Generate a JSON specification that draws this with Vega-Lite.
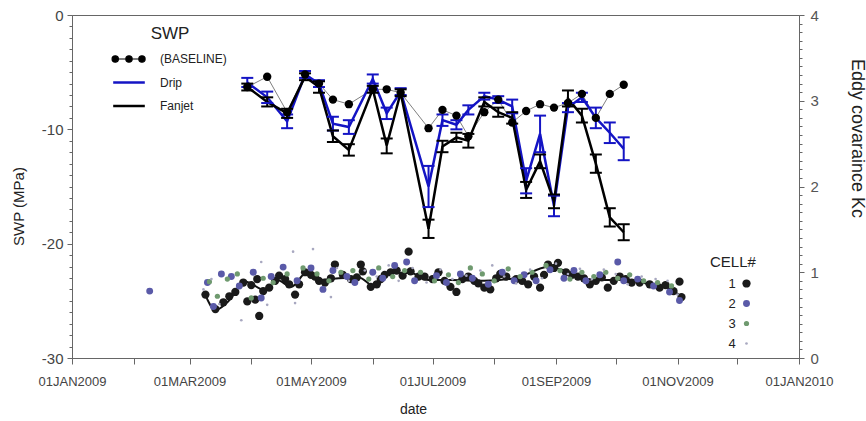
{
"$schema": "https://vega.github.io/schema/vega-lite/v6.json",
"width": 727, "height": 343, "autosize": "none",
"padding": {"left": 72, "top": 15, "right": 67, "bottom": 63},
"background": "white",
"config": {
 "font": "Liberation Sans",
 "view": {"stroke": "#666666", "strokeWidth": 1},
 "axis": {"grid": false, "domainColor": "#666666", "tickColor": "#666666", "labelColor": "#444444", "titleColor": "#222222", "titleFontWeight": "normal", "labelFont": "Liberation Sans", "titleFont": "Liberation Sans"},
 "legend": {"titleFont": "Liberation Sans", "labelFont": "Liberation Sans", "titleFontWeight": "normal", "titleColor": "#222222", "labelColor": "#222222", "padding": 0}
},
"datasets": {
 "swp": [
  {"date":"2009-03-30","series":"(BASELINE)","v":-6.3},
  {"date":"2009-04-09","series":"(BASELINE)","v":-5.4},
  {"date":"2009-04-19","series":"(BASELINE)","v":-8.5},
  {"date":"2009-04-28","series":"(BASELINE)","v":-5.2},
  {"date":"2009-05-05","series":"(BASELINE)","v":-6.0},
  {"date":"2009-05-12","series":"(BASELINE)","v":-7.4},
  {"date":"2009-05-20","series":"(BASELINE)","v":-7.8},
  {"date":"2009-06-01","series":"(BASELINE)","v":-6.5},
  {"date":"2009-06-08","series":"(BASELINE)","v":-6.5},
  {"date":"2009-06-15","series":"(BASELINE)","v":-6.8},
  {"date":"2009-06-29","series":"(BASELINE)","v":-9.9},
  {"date":"2009-07-06","series":"(BASELINE)","v":-8.3},
  {"date":"2009-07-13","series":"(BASELINE)","v":-8.8},
  {"date":"2009-07-19","series":"(BASELINE)","v":-10.6},
  {"date":"2009-07-27","series":"(BASELINE)","v":-8.5},
  {"date":"2009-08-03","series":"(BASELINE)","v":-7.4},
  {"date":"2009-08-10","series":"(BASELINE)","v":-9.4},
  {"date":"2009-08-17","series":"(BASELINE)","v":-8.4},
  {"date":"2009-08-24","series":"(BASELINE)","v":-7.8},
  {"date":"2009-08-31","series":"(BASELINE)","v":-8.1},
  {"date":"2009-09-07","series":"(BASELINE)","v":-7.7},
  {"date":"2009-09-14","series":"(BASELINE)","v":-6.9},
  {"date":"2009-09-21","series":"(BASELINE)","v":-9.0},
  {"date":"2009-09-28","series":"(BASELINE)","v":-6.9},
  {"date":"2009-10-05","series":"(BASELINE)","v":-6.1},
  {"date":"2009-03-30","series":"Drip","v":-5.9,"lo":-6.3,"hi":-5.5},
  {"date":"2009-04-09","series":"Drip","v":-7.2,"lo":-7.7,"hi":-6.7},
  {"date":"2009-04-19","series":"Drip","v":-9.3,"lo":-9.9,"hi":-8.7},
  {"date":"2009-04-28","series":"Drip","v":-5.2,"lo":-5.5,"hi":-4.9},
  {"date":"2009-05-05","series":"Drip","v":-6.0,"lo":-6.3,"hi":-5.7},
  {"date":"2009-05-12","series":"Drip","v":-9.5,"lo":-10.1,"hi":-8.9},
  {"date":"2009-05-20","series":"Drip","v":-9.8,"lo":-10.4,"hi":-9.2},
  {"date":"2009-06-01","series":"Drip","v":-5.6,"lo":-6.0,"hi":-5.2},
  {"date":"2009-06-08","series":"Drip","v":-8.6,"lo":-9.1,"hi":-8.1},
  {"date":"2009-06-15","series":"Drip","v":-6.7,"lo":-7.0,"hi":-6.4},
  {"date":"2009-06-29","series":"Drip","v":-15.0,"lo":-16.8,"hi":-13.2},
  {"date":"2009-07-06","series":"Drip","v":-9.2,"lo":-9.7,"hi":-8.7},
  {"date":"2009-07-13","series":"Drip","v":-9.6,"lo":-10.0,"hi":-9.2},
  {"date":"2009-07-19","series":"Drip","v":-8.3,"lo":-8.7,"hi":-7.9},
  {"date":"2009-07-27","series":"Drip","v":-7.1,"lo":-7.4,"hi":-6.8},
  {"date":"2009-08-03","series":"Drip","v":-7.4,"lo":-7.7,"hi":-7.1},
  {"date":"2009-08-10","series":"Drip","v":-8.0,"lo":-8.6,"hi":-7.4},
  {"date":"2009-08-17","series":"Drip","v":-14.5,"lo":-15.6,"hi":-13.4},
  {"date":"2009-08-24","series":"Drip","v":-10.4,"lo":-12.0,"hi":-8.8},
  {"date":"2009-08-31","series":"Drip","v":-16.7,"lo":-17.6,"hi":-15.8},
  {"date":"2009-09-07","series":"Drip","v":-8.1,"lo":-8.5,"hi":-7.7},
  {"date":"2009-09-14","series":"Drip","v":-7.2,"lo":-7.6,"hi":-6.8},
  {"date":"2009-09-21","series":"Drip","v":-9.0,"lo":-9.9,"hi":-8.1},
  {"date":"2009-09-28","series":"Drip","v":-10.3,"lo":-11.2,"hi":-9.4},
  {"date":"2009-10-05","series":"Drip","v":-11.7,"lo":-12.7,"hi":-10.7},
  {"date":"2009-03-30","series":"Fanjet","v":-6.3,"lo":-6.6,"hi":-6.0},
  {"date":"2009-04-09","series":"Fanjet","v":-7.6,"lo":-8.0,"hi":-7.2},
  {"date":"2009-04-19","series":"Fanjet","v":-8.6,"lo":-9.0,"hi":-8.2},
  {"date":"2009-04-28","series":"Fanjet","v":-5.4,"lo":-5.7,"hi":-5.1},
  {"date":"2009-05-05","series":"Fanjet","v":-6.3,"lo":-6.8,"hi":-5.8},
  {"date":"2009-05-12","series":"Fanjet","v":-10.6,"lo":-11.1,"hi":-10.1},
  {"date":"2009-05-20","series":"Fanjet","v":-11.8,"lo":-12.3,"hi":-11.3},
  {"date":"2009-06-01","series":"Fanjet","v":-6.5,"lo":-6.8,"hi":-6.2},
  {"date":"2009-06-08","series":"Fanjet","v":-11.4,"lo":-12.1,"hi":-10.8},
  {"date":"2009-06-15","series":"Fanjet","v":-6.8,"lo":-7.1,"hi":-6.5},
  {"date":"2009-06-29","series":"Fanjet","v":-18.7,"lo":-19.5,"hi":-17.9},
  {"date":"2009-07-06","series":"Fanjet","v":-11.5,"lo":-12.0,"hi":-11.0},
  {"date":"2009-07-13","series":"Fanjet","v":-10.7,"lo":-11.1,"hi":-10.3},
  {"date":"2009-07-19","series":"Fanjet","v":-11.0,"lo":-11.6,"hi":-10.4},
  {"date":"2009-07-27","series":"Fanjet","v":-7.6,"lo":-8.0,"hi":-7.2},
  {"date":"2009-08-03","series":"Fanjet","v":-8.5,"lo":-8.9,"hi":-8.1},
  {"date":"2009-08-10","series":"Fanjet","v":-9.0,"lo":-9.5,"hi":-8.5},
  {"date":"2009-08-17","series":"Fanjet","v":-15.3,"lo":-16.0,"hi":-14.6},
  {"date":"2009-08-24","series":"Fanjet","v":-12.8,"lo":-13.4,"hi":-12.2},
  {"date":"2009-08-31","series":"Fanjet","v":-16.3,"lo":-16.9,"hi":-15.7},
  {"date":"2009-09-07","series":"Fanjet","v":-7.3,"lo":-8.0,"hi":-6.6},
  {"date":"2009-09-14","series":"Fanjet","v":-8.8,"lo":-9.4,"hi":-8.2},
  {"date":"2009-09-21","series":"Fanjet","v":-13.0,"lo":-13.8,"hi":-12.2},
  {"date":"2009-09-28","series":"Fanjet","v":-17.7,"lo":-18.5,"hi":-16.9},
  {"date":"2009-10-05","series":"Fanjet","v":-19.0,"lo":-19.7,"hi":-18.3}
 ],
 "smooth": [
  {"date":"2009-03-09","kc":0.73},{"date":"2009-03-14","kc":0.56},{"date":"2009-03-20","kc":0.65},
  {"date":"2009-03-29","kc":0.89},{"date":"2009-04-08","kc":0.79},{"date":"2009-04-14","kc":0.91},
  {"date":"2009-04-21","kc":0.83},{"date":"2009-04-29","kc":1.0},{"date":"2009-05-06","kc":0.91},
  {"date":"2009-05-15","kc":0.93},{"date":"2009-05-25","kc":0.94},{"date":"2009-06-02","kc":0.83},
  {"date":"2009-06-10","kc":0.99},{"date":"2009-06-20","kc":0.99},{"date":"2009-06-29","kc":0.91},
  {"date":"2009-07-10","kc":0.91},{"date":"2009-07-27","kc":0.9},{"date":"2009-08-13","kc":0.94},
  {"date":"2009-08-28","kc":1.06},{"date":"2009-09-04","kc":1.03},{"date":"2009-09-12","kc":0.94},
  {"date":"2009-09-26","kc":0.91},{"date":"2009-10-09","kc":0.91},{"date":"2009-10-19","kc":0.85},
  {"date":"2009-10-27","kc":0.82},{"date":"2009-11-03","kc":0.71}
 ],
 "kc": [
  {"date":"2009-03-09","cell":"1","kc":0.74},{"date":"2009-03-14","cell":"1","kc":0.57},{"date":"2009-03-18","cell":"1","kc":0.65},
  {"date":"2009-03-21","cell":"1","kc":0.72},{"date":"2009-03-24","cell":"1","kc":0.77},{"date":"2009-03-28","cell":"1","kc":0.88},
  {"date":"2009-03-30","cell":"1","kc":0.66},{"date":"2009-04-01","cell":"1","kc":0.85},{"date":"2009-04-03","cell":"1","kc":0.68},
  {"date":"2009-04-04","cell":"1","kc":0.92},{"date":"2009-04-05","cell":"1","kc":0.49},{"date":"2009-04-07","cell":"1","kc":0.78},
  {"date":"2009-04-10","cell":"1","kc":0.82},{"date":"2009-04-13","cell":"1","kc":0.9},{"date":"2009-04-15","cell":"1","kc":0.96},
  {"date":"2009-04-18","cell":"1","kc":0.92},{"date":"2009-04-20","cell":"1","kc":0.86},{"date":"2009-04-23","cell":"1","kc":0.74},
  {"date":"2009-04-25","cell":"1","kc":0.86},{"date":"2009-04-28","cell":"1","kc":1.0},{"date":"2009-05-01","cell":"1","kc":0.97},
  {"date":"2009-05-03","cell":"1","kc":0.95},{"date":"2009-05-05","cell":"1","kc":0.9},{"date":"2009-05-08","cell":"1","kc":0.88},
  {"date":"2009-05-11","cell":"1","kc":0.93},{"date":"2009-05-13","cell":"1","kc":1.09},{"date":"2009-05-17","cell":"1","kc":0.97},
  {"date":"2009-05-21","cell":"1","kc":0.92},{"date":"2009-05-24","cell":"1","kc":0.94},{"date":"2009-05-26","cell":"1","kc":1.09},
  {"date":"2009-05-27","cell":"1","kc":1.01},{"date":"2009-05-31","cell":"1","kc":0.83},{"date":"2009-06-03","cell":"1","kc":0.86},
  {"date":"2009-06-05","cell":"1","kc":0.92},{"date":"2009-06-07","cell":"1","kc":0.97},{"date":"2009-06-10","cell":"1","kc":1.0},
  {"date":"2009-06-13","cell":"1","kc":1.02},{"date":"2009-06-16","cell":"1","kc":0.96},{"date":"2009-06-19","cell":"1","kc":1.24},
  {"date":"2009-06-20","cell":"1","kc":1.01},{"date":"2009-06-24","cell":"1","kc":0.95},{"date":"2009-06-27","cell":"1","kc":0.95},
  {"date":"2009-07-01","cell":"1","kc":0.92},{"date":"2009-07-04","cell":"1","kc":1.0},{"date":"2009-07-07","cell":"1","kc":0.9},
  {"date":"2009-07-10","cell":"1","kc":0.83},{"date":"2009-07-13","cell":"1","kc":0.77},{"date":"2009-07-16","cell":"1","kc":0.92},
  {"date":"2009-07-19","cell":"1","kc":0.95},{"date":"2009-07-22","cell":"1","kc":0.9},{"date":"2009-07-24","cell":"1","kc":0.87},
  {"date":"2009-07-27","cell":"1","kc":0.82},{"date":"2009-07-30","cell":"1","kc":0.8},{"date":"2009-08-02","cell":"1","kc":0.93},
  {"date":"2009-08-04","cell":"1","kc":0.98},{"date":"2009-08-07","cell":"1","kc":0.95},{"date":"2009-08-12","cell":"1","kc":0.92},
  {"date":"2009-08-15","cell":"1","kc":0.9},{"date":"2009-08-18","cell":"1","kc":0.86},{"date":"2009-08-21","cell":"1","kc":0.95},
  {"date":"2009-08-24","cell":"1","kc":0.82},{"date":"2009-08-26","cell":"1","kc":0.97},{"date":"2009-08-28","cell":"1","kc":1.09},
  {"date":"2009-08-31","cell":"1","kc":1.05},{"date":"2009-09-02","cell":"1","kc":1.11},{"date":"2009-09-06","cell":"1","kc":1.0},
  {"date":"2009-09-09","cell":"1","kc":0.97},{"date":"2009-09-12","cell":"1","kc":0.95},{"date":"2009-09-15","cell":"1","kc":0.93},
  {"date":"2009-09-18","cell":"1","kc":0.86},{"date":"2009-09-21","cell":"1","kc":0.9},{"date":"2009-09-24","cell":"1","kc":0.94},
  {"date":"2009-09-27","cell":"1","kc":0.82},{"date":"2009-09-30","cell":"1","kc":0.9},{"date":"2009-10-03","cell":"1","kc":0.95},
  {"date":"2009-10-06","cell":"1","kc":0.92},{"date":"2009-10-09","cell":"1","kc":0.88},{"date":"2009-10-13","cell":"1","kc":0.88},
  {"date":"2009-10-18","cell":"1","kc":0.86},{"date":"2009-10-23","cell":"1","kc":0.82},{"date":"2009-10-26","cell":"1","kc":0.85},
  {"date":"2009-10-30","cell":"1","kc":0.78},{"date":"2009-11-02","cell":"1","kc":0.89},{"date":"2009-11-03","cell":"1","kc":0.71},
  {"date":"2009-02-09","cell":"2","kc":0.78},{"date":"2009-03-10","cell":"2","kc":0.88},{"date":"2009-03-13","cell":"2","kc":0.6},
  {"date":"2009-03-17","cell":"2","kc":0.98},{"date":"2009-03-22","cell":"2","kc":0.95},{"date":"2009-03-26","cell":"2","kc":0.84},
  {"date":"2009-04-02","cell":"2","kc":1.0},{"date":"2009-04-06","cell":"2","kc":0.7},{"date":"2009-04-11","cell":"2","kc":0.95},
  {"date":"2009-04-17","cell":"2","kc":1.06},{"date":"2009-04-24","cell":"2","kc":0.9},{"date":"2009-05-01","cell":"2","kc":1.05},
  {"date":"2009-05-07","cell":"2","kc":0.8},{"date":"2009-05-12","cell":"2","kc":1.02},{"date":"2009-05-19","cell":"2","kc":0.95},
  {"date":"2009-05-23","cell":"2","kc":0.88},{"date":"2009-06-01","cell":"2","kc":1.0},{"date":"2009-06-06","cell":"2","kc":0.93},
  {"date":"2009-06-12","cell":"2","kc":1.08},{"date":"2009-06-18","cell":"2","kc":1.12},{"date":"2009-06-22","cell":"2","kc":0.9},
  {"date":"2009-07-03","cell":"2","kc":0.96},{"date":"2009-07-08","cell":"2","kc":0.88},{"date":"2009-07-15","cell":"2","kc":0.98},
  {"date":"2009-07-21","cell":"2","kc":0.93},{"date":"2009-07-29","cell":"2","kc":0.86},{"date":"2009-08-05","cell":"2","kc":1.0},
  {"date":"2009-08-11","cell":"2","kc":0.9},{"date":"2009-08-16","cell":"2","kc":0.97},{"date":"2009-08-22","cell":"2","kc":0.9},
  {"date":"2009-08-29","cell":"2","kc":1.03},{"date":"2009-09-05","cell":"2","kc":0.93},{"date":"2009-09-10","cell":"2","kc":1.02},
  {"date":"2009-09-16","cell":"2","kc":0.9},{"date":"2009-09-23","cell":"2","kc":0.97},{"date":"2009-10-02","cell":"2","kc":1.12},
  {"date":"2009-10-05","cell":"2","kc":0.9},{"date":"2009-10-12","cell":"2","kc":0.92},{"date":"2009-10-20","cell":"2","kc":0.84},
  {"date":"2009-10-28","cell":"2","kc":0.77},{"date":"2009-11-02","cell":"2","kc":0.67},
  {"date":"2009-03-11","cell":"3","kc":0.89},{"date":"2009-03-15","cell":"3","kc":0.72},{"date":"2009-03-20","cell":"3","kc":0.92},
  {"date":"2009-03-25","cell":"3","kc":0.98},{"date":"2009-04-01","cell":"3","kc":0.7},{"date":"2009-04-07","cell":"3","kc":0.93},
  {"date":"2009-04-12","cell":"3","kc":0.88},{"date":"2009-04-19","cell":"3","kc":0.98},{"date":"2009-04-27","cell":"3","kc":1.05},
  {"date":"2009-05-04","cell":"3","kc":0.98},{"date":"2009-05-10","cell":"3","kc":0.9},{"date":"2009-05-16","cell":"3","kc":1.0},
  {"date":"2009-05-22","cell":"3","kc":1.02},{"date":"2009-05-30","cell":"3","kc":0.92},{"date":"2009-06-04","cell":"3","kc":1.05},
  {"date":"2009-06-11","cell":"3","kc":0.95},{"date":"2009-06-17","cell":"3","kc":1.02},{"date":"2009-06-25","cell":"3","kc":1.0},
  {"date":"2009-07-02","cell":"3","kc":0.9},{"date":"2009-07-09","cell":"3","kc":0.97},{"date":"2009-07-14","cell":"3","kc":0.88},
  {"date":"2009-07-20","cell":"3","kc":1.05},{"date":"2009-07-26","cell":"3","kc":0.98},{"date":"2009-08-01","cell":"3","kc":0.9},
  {"date":"2009-08-08","cell":"3","kc":1.04},{"date":"2009-08-14","cell":"3","kc":0.95},{"date":"2009-08-20","cell":"3","kc":1.0},
  {"date":"2009-08-27","cell":"3","kc":1.08},{"date":"2009-09-03","cell":"3","kc":1.02},{"date":"2009-09-08","cell":"3","kc":0.92},
  {"date":"2009-09-14","cell":"3","kc":1.0},{"date":"2009-09-20","cell":"3","kc":0.95},{"date":"2009-09-26","cell":"3","kc":1.0},
  {"date":"2009-10-02","cell":"3","kc":0.93},{"date":"2009-10-08","cell":"3","kc":0.97},{"date":"2009-10-15","cell":"3","kc":0.9},
  {"date":"2009-10-22","cell":"3","kc":0.88},{"date":"2009-10-29","cell":"3","kc":0.84},
  {"date":"2009-03-08","cell":"4","kc":0.8},{"date":"2009-03-12","cell":"4","kc":0.92},{"date":"2009-03-16","cell":"4","kc":0.63},
  {"date":"2009-03-27","cell":"4","kc":0.44},{"date":"2009-04-06","cell":"4","kc":1.12},{"date":"2009-04-09","cell":"4","kc":0.62},
  {"date":"2009-04-22","cell":"4","kc":1.24},{"date":"2009-04-23","cell":"4","kc":0.64},{"date":"2009-05-02","cell":"4","kc":1.27},
  {"date":"2009-05-11","cell":"4","kc":0.71},{"date":"2009-05-14","cell":"4","kc":1.05},{"date":"2009-05-20","cell":"4","kc":0.9},
  {"date":"2009-05-28","cell":"4","kc":1.02},{"date":"2009-06-03","cell":"4","kc":0.95},{"date":"2009-06-09","cell":"4","kc":1.08},
  {"date":"2009-06-14","cell":"4","kc":0.9},{"date":"2009-06-21","cell":"4","kc":1.05},{"date":"2009-06-28","cell":"4","kc":0.88},
  {"date":"2009-07-05","cell":"4","kc":1.03},{"date":"2009-07-11","cell":"4","kc":0.92},{"date":"2009-07-18","cell":"4","kc":0.96},
  {"date":"2009-07-25","cell":"4","kc":1.02},{"date":"2009-07-31","cell":"4","kc":1.08},{"date":"2009-08-06","cell":"4","kc":0.95},
  {"date":"2009-08-12","cell":"4","kc":0.87},{"date":"2009-08-19","cell":"4","kc":1.03},{"date":"2009-08-25","cell":"4","kc":0.93},
  {"date":"2009-09-01","cell":"4","kc":1.1},{"date":"2009-09-07","cell":"4","kc":0.98},{"date":"2009-09-13","cell":"4","kc":1.04},
  {"date":"2009-09-19","cell":"4","kc":0.92},{"date":"2009-09-25","cell":"4","kc":1.03},{"date":"2009-10-01","cell":"4","kc":0.98},
  {"date":"2009-10-07","cell":"4","kc":0.86},{"date":"2009-10-14","cell":"4","kc":0.95},{"date":"2009-10-21","cell":"4","kc":0.92},
  {"date":"2009-10-27","cell":"4","kc":0.9},{"date":"2009-11-01","cell":"4","kc":0.74}
 ]
},
"encoding": {
 "x": {"field": "date", "type": "temporal", "title": "date",
  "scale": {"type": "utc", "domain": [{"year":2009,"month":1,"date":1,"utc":true},{"year":2010,"month":1,"date":1,"utc":true}]},
  "axis": {
   "values": [{"year":2009,"month":1,"date":1,"utc":true},{"year":2009,"month":2,"date":1,"utc":true},{"year":2009,"month":3,"date":1,"utc":true},{"year":2009,"month":4,"date":1,"utc":true},{"year":2009,"month":5,"date":1,"utc":true},{"year":2009,"month":6,"date":1,"utc":true},{"year":2009,"month":7,"date":1,"utc":true},{"year":2009,"month":8,"date":1,"utc":true},{"year":2009,"month":9,"date":1,"utc":true},{"year":2009,"month":10,"date":1,"utc":true},{"year":2009,"month":11,"date":1,"utc":true},{"year":2009,"month":12,"date":1,"utc":true},{"year":2010,"month":1,"date":1,"utc":true}],
   "labelExpr": "utcmonth(datum.value) % 2 === 0 ? upper(utcFormat(datum.value, '%d%b%Y')) : ''",
   "labelOverlap": false, "labelFlush": false, "labelBound": false,
   "labelFontSize": 13, "labelPadding": 11, "tickSize": 6,
   "titleFontSize": 14, "titleX": 341, "titleY": 51, "titleBaseline": "middle", "titleAlign": "center"
  }
 }
},
"layer": [
 {
  "data": {"name": "swp"},
  "encoding": {
   "y": {"field": "v", "type": "quantitative", "title": "SWP (MPa)",
    "scale": {"domain": [-30, 0], "nice": false, "zero": false},
    "axis": {
     "orient": "left",
     "values": [0,-1,-2,-3,-4,-5,-6,-7,-8,-9,-10,-11,-12,-13,-14,-15,-16,-17,-18,-19,-20,-21,-22,-23,-24,-25,-26,-27,-28,-29,-30],
     "labelExpr": "datum.value % 10 === 0 ? '' + datum.value : ''",
     "tickSize": {"condition": {"test": "datum.value % 10 === 0", "value": 5}, "value": 3},
     "labelOverlap": false, "labelFlush": false, "labelBound": false,
     "labelFontSize": 15, "labelPadding": 4,
     "titleFontSize": 15, "titleAngle": -90, "titleX": -54, "titleY": 191, "titleAlign": "center", "titleBaseline": "middle"
    }
   },
   "color": {"field": "series", "type": "nominal",
    "scale": {"domain": ["(BASELINE)", "Drip", "Fanjet"], "range": ["#000000", "#1414c4", "#000000"]},
    "legend": {"title": "SWP", "orient": "none", "legendX": 41, "legendY": 11,
     "titleFontSize": 17, "titleAnchor": "middle", "titlePadding": 10,
     "labelFontSize": 12, "labelOffset": 25, "symbolOffset": 10,
     "symbolType": "stroke", "symbolSize": 1000, "rowPadding": 11.5,
     "encode": {"symbols": {"update": {
       "shape": {"signal": "datum.value === '(BASELINE)' ? 'M-1,0L1,0M-1.07,0A0.2,0.2 0 1,0 -0.67,0A0.2,0.2 0 1,0 -1.07,0ZM-0.2,0A0.2,0.2 0 1,0 0.2,0A0.2,0.2 0 1,0 -0.2,0ZM0.62,0A0.2,0.2 0 1,0 1.02,0A0.2,0.2 0 1,0 0.62,0Z' : 'stroke'"},
       "fill": {"signal": "datum.value === '(BASELINE)' ? '#000000' : 'transparent'"},
       "strokeWidth": {"signal": "datum.value === '(BASELINE)' ? 1.2 : 2.5"}
     }}}
    }
   }
  },
  "layer": [
   {"transform": [{"filter": "datum.series === '(BASELINE)'"}], "mark": {"type": "line", "strokeWidth": 1}, "encoding": {"color": {"value": "#808080"}}},
   {"transform": [{"filter": "datum.series !== '(BASELINE)'"}], "mark": {"type": "line", "strokeWidth": 2.5}, "encoding": {}},
   {"transform": [{"filter": "datum.series !== '(BASELINE)'"}], "mark": {"type": "rule", "strokeWidth": 2},
    "encoding": {"y": {"field": "lo", "type": "quantitative", "title": "SWP (MPa)"}, "y2": {"field": "hi"}}},
   {"transform": [{"filter": "datum.series !== '(BASELINE)'"}], "mark": {"type": "tick", "orient": "horizontal", "size": 12, "thickness": 2, "opacity": 1},
    "encoding": {"y": {"field": "lo", "type": "quantitative", "title": "SWP (MPa)"}}},
   {"transform": [{"filter": "datum.series !== '(BASELINE)'"}], "mark": {"type": "tick", "orient": "horizontal", "size": 12, "thickness": 2, "opacity": 1},
    "encoding": {"y": {"field": "hi", "type": "quantitative", "title": "SWP (MPa)"}}},
   {"transform": [{"filter": "datum.series === '(BASELINE)'"}], "mark": {"type": "circle", "size": 70, "opacity": 1}, "encoding": {"color": {"value": "#000000"}}}
  ]
 },
 {
  "encoding": {
   "y": {"field": "kc", "type": "quantitative", "title": "Eddy covaraince Kc",
    "scale": {"domain": [0, 4], "nice": false, "zero": false},
    "axis": {
     "orient": "right",
     "values": [0,0.1,0.2,0.3,0.4,0.5,0.6,0.7,0.8,0.9,1,1.1,1.2,1.3,1.4,1.5,1.6,1.7,1.8,1.9,2,2.1,2.2,2.3,2.4,2.5,2.6,2.7,2.8,2.9,3,3.1,3.2,3.3,3.4,3.5,3.6,3.7,3.8,3.9,4],
     "labelExpr": "datum.value % 1 === 0 ? '' + datum.value : ''",
     "tickSize": {"condition": {"test": "datum.value % 1 === 0", "value": 5}, "value": 3},
     "labelOverlap": false, "labelFlush": false, "labelBound": false,
     "labelFontSize": 15, "labelPadding": 6, "labelColor": "#555555",
     "titleFontSize": 18, "titleAngle": 90, "titleX": 57, "titleY": 123, "titleAlign": "center", "titleBaseline": "middle"
    }
   }
  },
  "layer": [
   {"data": {"name": "smooth"}, "mark": {"type": "line", "interpolate": "monotone", "color": "#111111", "strokeWidth": 2}, "encoding": {}},
   {"data": {"name": "kc"}, "mark": {"type": "circle", "opacity": 1},
    "encoding": {
     "color": {"field": "cell", "type": "ordinal",
      "scale": {"domain": ["1","2","3","4"], "range": ["#1a1a1a", "#5a5aa8", "#6f9a6f", "#a8a8c0"]},
      "legend": {"title": "CELL#", "orient": "none", "legendX": 638, "legendY": 240, "titleFontSize": 15, "titlePadding": 7, "labelFontSize": 13, "labelAlign": "center", "labelOffset": -21, "symbolOffset": 30, "rowPadding": 6, "labelColor": "#222222"}},
     "size": {"field": "cell", "type": "ordinal",
      "scale": {"domain": ["1","2","3","4"], "range": [68, 7, 7, 7]},
      "legend": {"title": "CELL#", "orient": "none", "legendX": 638, "legendY": 240, "titleFontSize": 15, "titlePadding": 7, "labelFontSize": 13, "labelAlign": "center", "labelOffset": -21, "symbolOffset": 30, "rowPadding": 6, "labelColor": "#222222"}}
    }
   }
  ]
 }
],
"resolve": {"scale": {"y": "independent", "color": "independent", "size": "independent"}}
}
